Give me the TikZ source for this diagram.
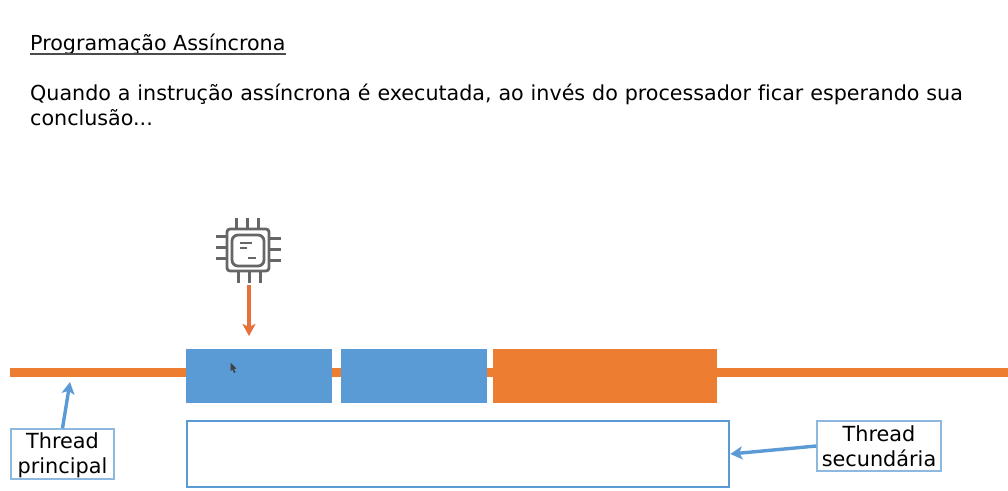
\documentclass[tikz,border=0pt]{standalone}
\usepackage{fontspec}
\setmainfont[Ligatures=NoCommon]{DejaVu Sans}
\usetikzlibrary{arrows.meta,calc}
\definecolor{obar}{HTML}{ED7D31}
\definecolor{bbox}{HTML}{5B9BD5}
\definecolor{chipc}{HTML}{666666}
\definecolor{arr}{HTML}{E8703A}
\definecolor{lblb}{HTML}{8DB8DF}
\definecolor{txt}{HTML}{000000}
\tikzset{
  blk/.style={draw=none,fill=#1,minimum height=54pt,inner sep=0pt,outer sep=0pt},
  lbl/.style={draw=lblb,line width=1.4pt,fill=white,inner sep=0pt,align=center,font=\fontsize{20.8}{25}\selectfont,text=black},
  para/.style={anchor=north west,inner sep=0pt,align=left,font=\fontsize{20.65}{25}\selectfont,text=txt},
  pin/.style={chipc,line width=3pt},
  blueline/.style={bbox,line width=3.4pt,-{Stealth[length=12pt,width=13pt,inset=3pt]}},
}
\begin{document}
\begin{tikzpicture}[x=1pt,y=-1pt]
\useasboundingbox (0,0) rectangle (1008,490);
\fill[white] (0,0) rectangle (1008,490);
% title and text
\node[para,anchor=base west] (title) at (30,50) {Programação Assíncrona};
\draw[txt!70,line width=2pt] ($(title.base west)+(0,3.5)$) -- ($(title.base east)+(0,3.5)$);
\node[para,text width=950pt] (body) at (30,84) {Quando a instrução assíncrona é executada, ao invés do processador ficar esperando sua\\conclusão...};
% timeline
\coordinate (ls) at (10,372.5);
\coordinate (le) at (1008,372.5);
\draw[obar,line width=9pt] (ls) -- (le);
\node[blk=bbox,minimum width=146pt] (b1) at (259,376) {};
\node[blk=bbox,minimum width=146pt] (b2) at (414,376) {};
\node[blk=obar,minimum width=224pt] (b3) at (605,376) {};
% secondary thread
\node[draw=bbox,line width=2.6pt,fill=white,minimum width=542pt,minimum height=66pt,inner sep=0pt] (sec) at (458,454) {};
% labels
\node[lbl,minimum width=103pt,minimum height=50pt] (tp) at (62.5,454) {\rule{0pt}{17.8pt}Thread\\principal};
\node[lbl,minimum width=124pt,minimum height=50pt] (ts) at (879,446) {Thread\\secundária};
\coordinate (tpa) at (70,382);
\draw[blueline] (tp.north) -- (tpa);
\draw[blueline] (ts.west) -- (sec.east);
% chip
\draw[chipc,line width=2.8pt,rounded corners=3pt] (227,229) rectangle (269,271);
\draw[chipc,line width=2.8pt,rounded corners=6pt] (232,235) rectangle (264,266);
\foreach \x in {236,247,258} \draw[pin] (\x,218) -- (\x,229);
\foreach \x in {238,249,260} \draw[pin] (\x,271) -- (\x,283);
\foreach \y in {236,247,258} \draw[pin] (216,\y) -- (227,\y);
\foreach \y in {238,249,260} \draw[pin] (269,\y) -- (281,\y);
\draw[chipc,line width=2pt] (240,243) -- (252,243) (240,247.5) -- (247,247.5) (248,258) -- (256,258);
\coordinate (cb) at (249,285);
\coordinate (ca) at (249,336);
\draw[arr,line width=3.4pt,-{Stealth[length=12pt,width=13pt,inset=3pt]}] (cb) -- (ca);
% pointer
\fill[black!75] (230.5,362.5) -- (230.5,371) -- (232.5,369.5) -- (234,373) -- (235.5,372.3) -- (234,369) -- (236.5,368.5) -- cycle;
\end{tikzpicture}
\end{document}
